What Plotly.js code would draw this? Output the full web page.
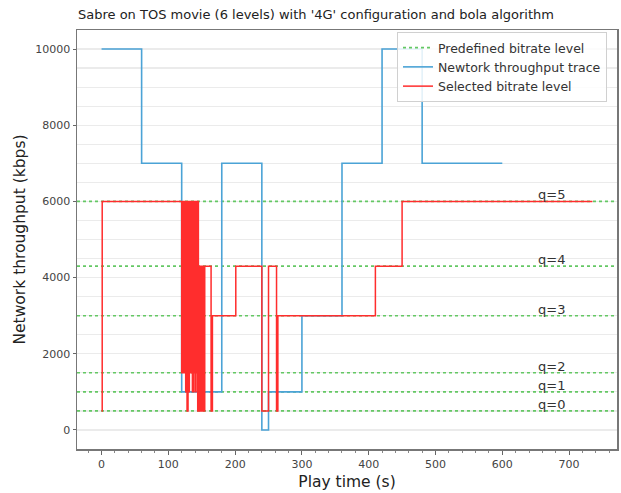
<!DOCTYPE html>
<html>
<head>
<meta charset="utf-8">
<script src="https://cdn.plot.ly/plotly-3.0.1.min.js"></script>
<style>html,body{margin:0;padding:0;background:#fff;}#chart{width:621px;height:493px;}</style>
</head>
<body>
<div id="chart"></div>
<script>
// Predefined bitrate levels (kbps)
const levels = [500, 1000, 1500, 3000, 4300, 6000];
const levelLabels = ["q=0", "q=1", "q=2", "q=3", "q=4", "q=5"];

// Network throughput trace (step, value holds until next time)
const netTime = [0, 60, 120, 180, 240, 250, 300, 360, 420, 480, 540, 600];
const netRate = [10000, 7000, 1000, 7000, 0, 1000, 3000, 7000, 10000, 7000, 7000, 7000];

// Selected bitrate level (step)
const selTime = [0, 1,
  120, 120.5, 121, 121.5, 122, 122.5, 123, 123.5, 124, 124.5, 125, 125.5, 126, 126.5, 127, 127.5, 128, 128.5, 129, 129.5,
  130, 130.5, 131, 131.5, 132, 132.5, 133, 133.5, 134, 134.5, 135, 135.5, 136, 136.5, 137, 137.5, 138, 138.5, 139, 139.5,
  140, 140.5, 141, 141.5, 142, 142.5, 143, 143.5, 144, 144.5, 145, 145.5, 146, 146.5, 147, 147.5, 148, 148.5, 149, 149.5,
  150, 150.5, 151, 151.5, 152, 152.5, 153, 153.5, 154, 154.5, 155,
  164, 166, 201, 240, 250, 262, 264, 410, 450, 735];
const selRate = [500, 6000,
  1500, 6000, 1500, 6000, 1500, 6000, 1500, 6000, 1500, 6000, 1500, 6000, 1000, 6000, 1000, 6000, 500, 6000, 500, 6000,
  1000, 6000, 1000, 6000, 1500, 6000, 1500, 6000, 1500, 6000, 1500, 6000, 1000, 6000, 1000, 6000, 1500, 6000, 1500, 6000,
  1000, 6000, 1000, 6000, 1500, 6000, 1500, 6000, 500, 6000, 500, 4300, 500, 4300, 500, 4300, 500, 4300, 500, 4300,
  500, 4300, 500, 4300, 500, 4300, 500, 4300, 500, 4300, 4300,
  500, 3000, 4300, 500, 4300, 500, 3000, 4300, 6000, 6000];

const xRange = [-36.75, 771.75];
const yRange = [-500, 10500];
const labelX = 650;

const FONT = "DejaVu Sans, sans-serif";

// level lines across the full x range
const lvX = [], lvY = [];
levels.forEach(function (l) { lvX.push(xRange[0], xRange[1], null); lvY.push(l, l, null); });

const traces = [
  { x: lvX, y: lvY, mode: "lines", name: "Predefined bitrate level",
    line: { color: "rgb(100,200,100)", width: 1.6, dash: "dot" }, hoverinfo: "skip" },
  { x: netTime, y: netRate, mode: "lines", name: "Newtork throughput trace",
    line: { color: "rgb(75,163,214)", width: 1.6, shape: "hv" } },
  { x: selTime, y: selRate, mode: "lines", name: "Selected bitrate level",
    line: { color: "rgb(255,45,45)", width: 1.5, shape: "hv" } }
];

const annotations = levels.map(function (l, i) {
  return { x: labelX, y: l, xref: "x", yref: "y", text: levelLabels[i], showarrow: false,
    xanchor: "left", yanchor: "bottom", yshift: -3, font: { family: FONT, size: 13, color: "#333" } };
});

const layout = {
  width: 621, height: 493,
  margin: { l: 77, r: 4, t: 30, b: 44 },
  paper_bgcolor: "#fff", plot_bgcolor: "#fff",
  font: { family: FONT, color: "#333" },
  title: { text: "Sabre on TOS movie (6 levels) with '4G' configuration and bola algorithm",
    xref: "container", yref: "container", x: 78 / 621, xanchor: "left", y: 1 - 14 / 493, yanchor: "middle",
    font: { family: FONT, size: 13, color: "#222" } },
  xaxis: {
    range: xRange, tickmode: "linear", tick0: 0, dtick: 100, showgrid: false, zeroline: false,
    ticks: "outside", ticklen: 4, tickcolor: "#666", tickwidth: 1,
    minor: { dtick: 20, tick0: 0, ticks: "outside", ticklen: 2, tickcolor: "#888", showgrid: false },
    showline: true, mirror: true, linecolor: "#777", linewidth: 1.5,
    tickfont: { family: FONT, size: 11, color: "#444" },
    title: { text: "Play time (s)", font: { family: FONT, size: 15.5, color: "#222" }, standoff: 6 }
  },
  yaxis: {
    range: yRange, tickmode: "linear", tick0: 0, dtick: 2000, tickformat: "d",
    showgrid: true, gridcolor: "#ebebeb", gridwidth: 1.2,
    zeroline: false, ticks: "outside", ticklen: 3, tickcolor: "#666",
    minor: { dtick: 500, tick0: 0, showgrid: true, gridcolor: "#ebebeb", gridwidth: 1.2, ticks: "" },
    showline: true, mirror: true, linecolor: "#777", linewidth: 1.5,
    tickfont: { family: FONT, size: 11, color: "#444" },
    title: { text: "Network throughput (kbps)", font: { family: FONT, size: 15.5, color: "#222" }, standoff: 6 }
  },
  legend: {
    x: (397 - 77) / 540, y: (449 - 32) / 419, xanchor: "left", yanchor: "top",
    bgcolor: "rgba(255,255,255,0.85)", bordercolor: "#d0d0d0", borderwidth: 1,
    font: { family: FONT, size: 12.5, color: "#333" }, tracegroupgap: 0
  },
  showlegend: true,
  annotations: annotations
};

Plotly.newPlot("chart", traces, layout, { displayModeBar: false, staticPlot: true });
</script>
</body>
</html>
